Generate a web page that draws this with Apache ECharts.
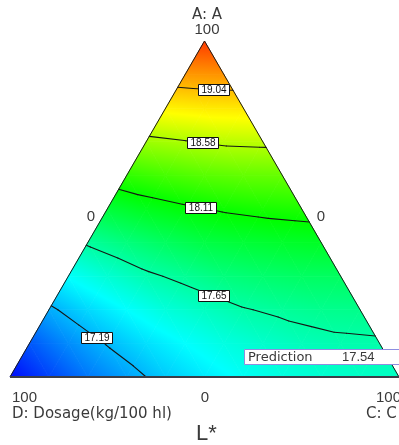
<!DOCTYPE html>
<html><head><meta charset="utf-8">
<script src="https://cdn.jsdelivr.net/npm/echarts@6/dist/echarts.min.js"></script>
<style>html,body{margin:0;padding:0;background:#fff}#c{width:399px;height:445px}</style>
</head><body><div id="c"></div>
<script>
// ---- DATA ----
// Response L* at ternary lattice points: array responseA{k} holds A = k/10,
// entry c is C = c/10, and D = 1 - A - C.
const responseA0  = [16.70,16.86,17.01,17.13,17.25,17.34,17.42,17.48,17.52,17.55,17.56];
const responseA1  = [16.92,17.07,17.20,17.31,17.40,17.48,17.54,17.59,17.62,17.63];
const responseA2  = [17.16,17.29,17.40,17.50,17.57,17.64,17.68,17.71,17.72];
const responseA3  = [17.41,17.52,17.62,17.69,17.76,17.80,17.83,17.84];
const responseA4  = [17.67,17.76,17.84,17.91,17.95,17.98,18.00];
const responseA5  = [17.94,18.02,18.08,18.13,18.16,18.18];
const responseA6  = [18.23,18.29,18.34,18.37,18.38];
const responseA7  = [18.53,18.57,18.61,18.62];
const responseA8  = [18.84,18.87,18.88];
const responseA9  = [19.16,19.18];
const responseA10 = [19.50];
const contourLevels = [17.19, 17.65, 18.11, 18.58, 19.04];
const colorScaleValues = [16.70, 17.40, 18.10, 18.80, 19.70];
const predictionLabel = 'Prediction';
const predictionValue = 17.54;
const titleA = 'A: A';
const titleC = 'C: C';
const titleD = 'D: Dosage(kg/100 hl)';
const tickMax = '100';
const tickMin = '0';
const responseName = 'L*';

// ---- STYLE / LAYOUT ----
const colorScaleColors = [[0,10,250],[0,255,255],[0,255,0],[255,255,0],[255,0,0]];
const labelAnchorX = [0.223, 0.525, 0.492, 0.497, 0.525];
const WORD_FONT = 'DejaVu Sans';
const NUM_FONT = 'Liberation Sans';
const TXT = '#3a3a3a';

const rows = [responseA0,responseA1,responseA2,responseA3,responseA4,responseA5,
              responseA6,responseA7,responseA8,responseA9,responseA10];
const N = rows.length - 1;
function pt(a, c) { return [c / N + a / (2 * N), a / N, rows[a][c]]; }

const tris = [];
for (let a = 0; a < N; a++) {
  for (let c = 0; c <= N - 1 - a; c++) {
    tris.push([pt(a, c), pt(a, c + 1), pt(a + 1, c)]);
    if (a + c <= N - 2) tris.push([pt(a, c + 1), pt(a + 1, c + 1), pt(a + 1, c)]);
  }
}
const cellData = tris.map(t => [t[0][0], t[0][1], t[0][2], t[1][0], t[1][1], t[1][2], t[2][0], t[2][1], t[2][2]]);

const segs = [];
contourLevels.forEach((L, li) => {
  tris.forEach(t => {
    const ps = [];
    for (let i = 0; i < 3; i++) {
      const p = t[i], q = t[(i + 1) % 3];
      if ((p[2] < L) !== (q[2] < L)) {
        const s = (L - p[2]) / (q[2] - p[2]);
        ps.push([p[0] + s * (q[0] - p[0]), p[1] + s * (q[1] - p[1])]);
      }
    }
    if (ps.length === 2) segs.push([ps[0][0], ps[0][1], ps[1][0], ps[1][1], li]);
  });
});

const labelData = contourLevels.map((L, li) => {
  const X = labelAnchorX[li];
  for (const s of segs) {
    if (s[4] !== li) continue;
    const x1 = s[0], x2 = s[2];
    if (x1 !== x2 && (x1 - X) * (x2 - X) <= 0) {
      const t = (X - x1) / (x2 - x1);
      return [X, s[1] + t * (s[3] - s[1]), L];
    }
  }
  return [X, 0, L];
});

function colorAt(v) {
  const s = colorScaleValues, c = colorScaleColors;
  if (v <= s[0]) return 'rgb(' + c[0].join(',') + ')';
  for (let i = 0; i < s.length - 1; i++) {
    if (v <= s[i + 1]) {
      const t = (v - s[i]) / (s[i + 1] - s[i]);
      const r = c[i].map((x, k) => Math.round(x + t * (c[i + 1][k] - x)));
      return 'rgb(' + r.join(',') + ')';
    }
  }
  return 'rgb(' + c[c.length - 1].join(',') + ')';
}

function cellStyle(P, V) {
  const vmin = Math.min(V[0], V[1], V[2]), vmax = Math.max(V[0], V[1], V[2]);
  if (vmax - vmin < 1e-9) return colorAt(vmin);
  const e1 = [P[1][0] - P[0][0], P[1][1] - P[0][1]];
  const e2 = [P[2][0] - P[0][0], P[2][1] - P[0][1]];
  const d1 = V[1] - V[0], d2 = V[2] - V[0];
  const det = e1[0] * e2[1] - e1[1] * e2[0];
  const gx = (d1 * e2[1] - d2 * e1[1]) / det;
  const gy = (e1[0] * d2 - e2[0] * d1) / det;
  const g2 = gx * gx + gy * gy;
  const sx = P[0][0] + gx * (vmin - V[0]) / g2, sy = P[0][1] + gy * (vmin - V[0]) / g2;
  const ex = P[0][0] + gx * (vmax - V[0]) / g2, ey = P[0][1] + gy * (vmax - V[0]) / g2;
  const stops = [{ offset: 0, color: colorAt(vmin) }];
  colorScaleValues.forEach(s => {
    if (s > vmin && s < vmax) stops.push({ offset: (s - vmin) / (vmax - vmin), color: colorAt(s) });
  });
  stops.push({ offset: 1, color: colorAt(vmax) });
  return { type: 'linear', x: sx, y: sy, x2: ex, y2: ey, global: true, colorStops: stops };
}

const chart = echarts.init(document.getElementById('c'), null, { renderer: 'canvas' });

function txt(text, x, y, font, align, extra) {
  return Object.assign({
    type: 'text', z: 100,
    style: { text: text, x: x, y: y, font: font, fill: TXT, align: align, verticalAlign: 'middle',
             textAlign: align, textVerticalAlign: 'middle' }
  }, extra || {});
}

chart.setOption({
  animation: false,
  backgroundColor: '#fff',
  grid: { left: 10, top: 41, width: 394.5, height: 336 },
  xAxis: { type: 'value', min: 0, max: 1, show: false },
  yAxis: { type: 'value', min: 0, max: 1, show: false },
  series: [
    {
      type: 'custom', z: 1, silent: true, data: cellData,
      renderItem: function (params, api) {
        const P = [api.coord([api.value(0), api.value(1)]),
                   api.coord([api.value(3), api.value(4)]),
                   api.coord([api.value(6), api.value(7)])];
        const V = [api.value(2), api.value(5), api.value(8)];
        const f = cellStyle(P, V);
        return { type: 'polygon', shape: { points: P }, style: { fill: f, stroke: f, lineWidth: 0.8 } };
      }
    },
    {
      type: 'custom', z: 2, silent: true, data: segs,
      renderItem: function (params, api) {
        const a = api.coord([api.value(0), api.value(1)]);
        const b = api.coord([api.value(2), api.value(3)]);
        return { type: 'line', shape: { x1: a[0], y1: a[1], x2: b[0], y2: b[1] },
                 style: { stroke: '#151515', lineWidth: 1.1, lineCap: 'round' } };
      }
    },
    {
      type: 'custom', z: 3, silent: true, data: [[0, 0]],
      renderItem: function (params, api) {
        const L = api.coord([0, 0]), T = api.coord([0.5, 1]), R = api.coord([1, 0]);
        return { type: 'group', children: [
          { type: 'polyline', shape: { points: [L, T, R] }, style: { stroke: '#1a1a1a', lineWidth: 1, fill: null } },
          { type: 'line', shape: { x1: L[0], y1: L[1], x2: R[0], y2: R[1] }, style: { stroke: '#3a3d48', lineWidth: 2 } }
        ] };
      }
    },
    {
      type: 'custom', z: 4, silent: true, data: labelData,
      renderItem: function (params, api) {
        const p = api.coord([api.value(0), api.value(1)]);
        const cx = Math.round(p[0]), cy = Math.round(p[1]);
        return { type: 'group', children: [
          { type: 'rect', shape: { x: cx - 15.5, y: cy - 5.5, width: 31, height: 11 },
            style: { fill: '#fff', stroke: '#111', lineWidth: 1 } },
          { type: 'text', style: { text: api.value(2).toFixed(2), x: cx, y: cy + 0.5, align: 'center', verticalAlign: 'middle',
              font: '10px ' + NUM_FONT, fill: '#111' } }
        ] };
      }
    }
  ],
  graphic: { elements: [
    txt(titleA, 207, 15, '15px ' + WORD_FONT, 'center'),
    txt(tickMax, 207, 30, '15px ' + NUM_FONT, 'center'),
    txt(tickMin, 91, 217, '15px ' + NUM_FONT, 'center'),
    txt(tickMin, 321, 217, '15px ' + NUM_FONT, 'center'),
    txt(tickMax, 12, 398, '15px ' + NUM_FONT, 'left'),
    txt(titleD, 12, 414, '15px ' + WORD_FONT, 'left'),
    txt(tickMin, 205, 398, '15px ' + NUM_FONT, 'center'),
    txt(tickMax, 376, 398, '15px ' + NUM_FONT, 'left'),
    txt(titleC, 366, 414, '15px ' + WORD_FONT, 'left'),
    txt(responseName, 196, 434, '22px ' + NUM_FONT, 'left'),
    { type: 'rect', z: 100, shape: { x: 244.5, y: 349.5, width: 170, height: 15 },
      style: { fill: '#fff', stroke: '#8e8ee0', lineWidth: 1 } },
    txt(predictionLabel, 248, 357.5, '13px ' + WORD_FONT, 'left', { z: 101 }),
    txt(predictionValue.toFixed(2), 342, 357.5, '13px ' + NUM_FONT, 'left', { z: 101 })
  ] }
});
</script>
</body></html>
